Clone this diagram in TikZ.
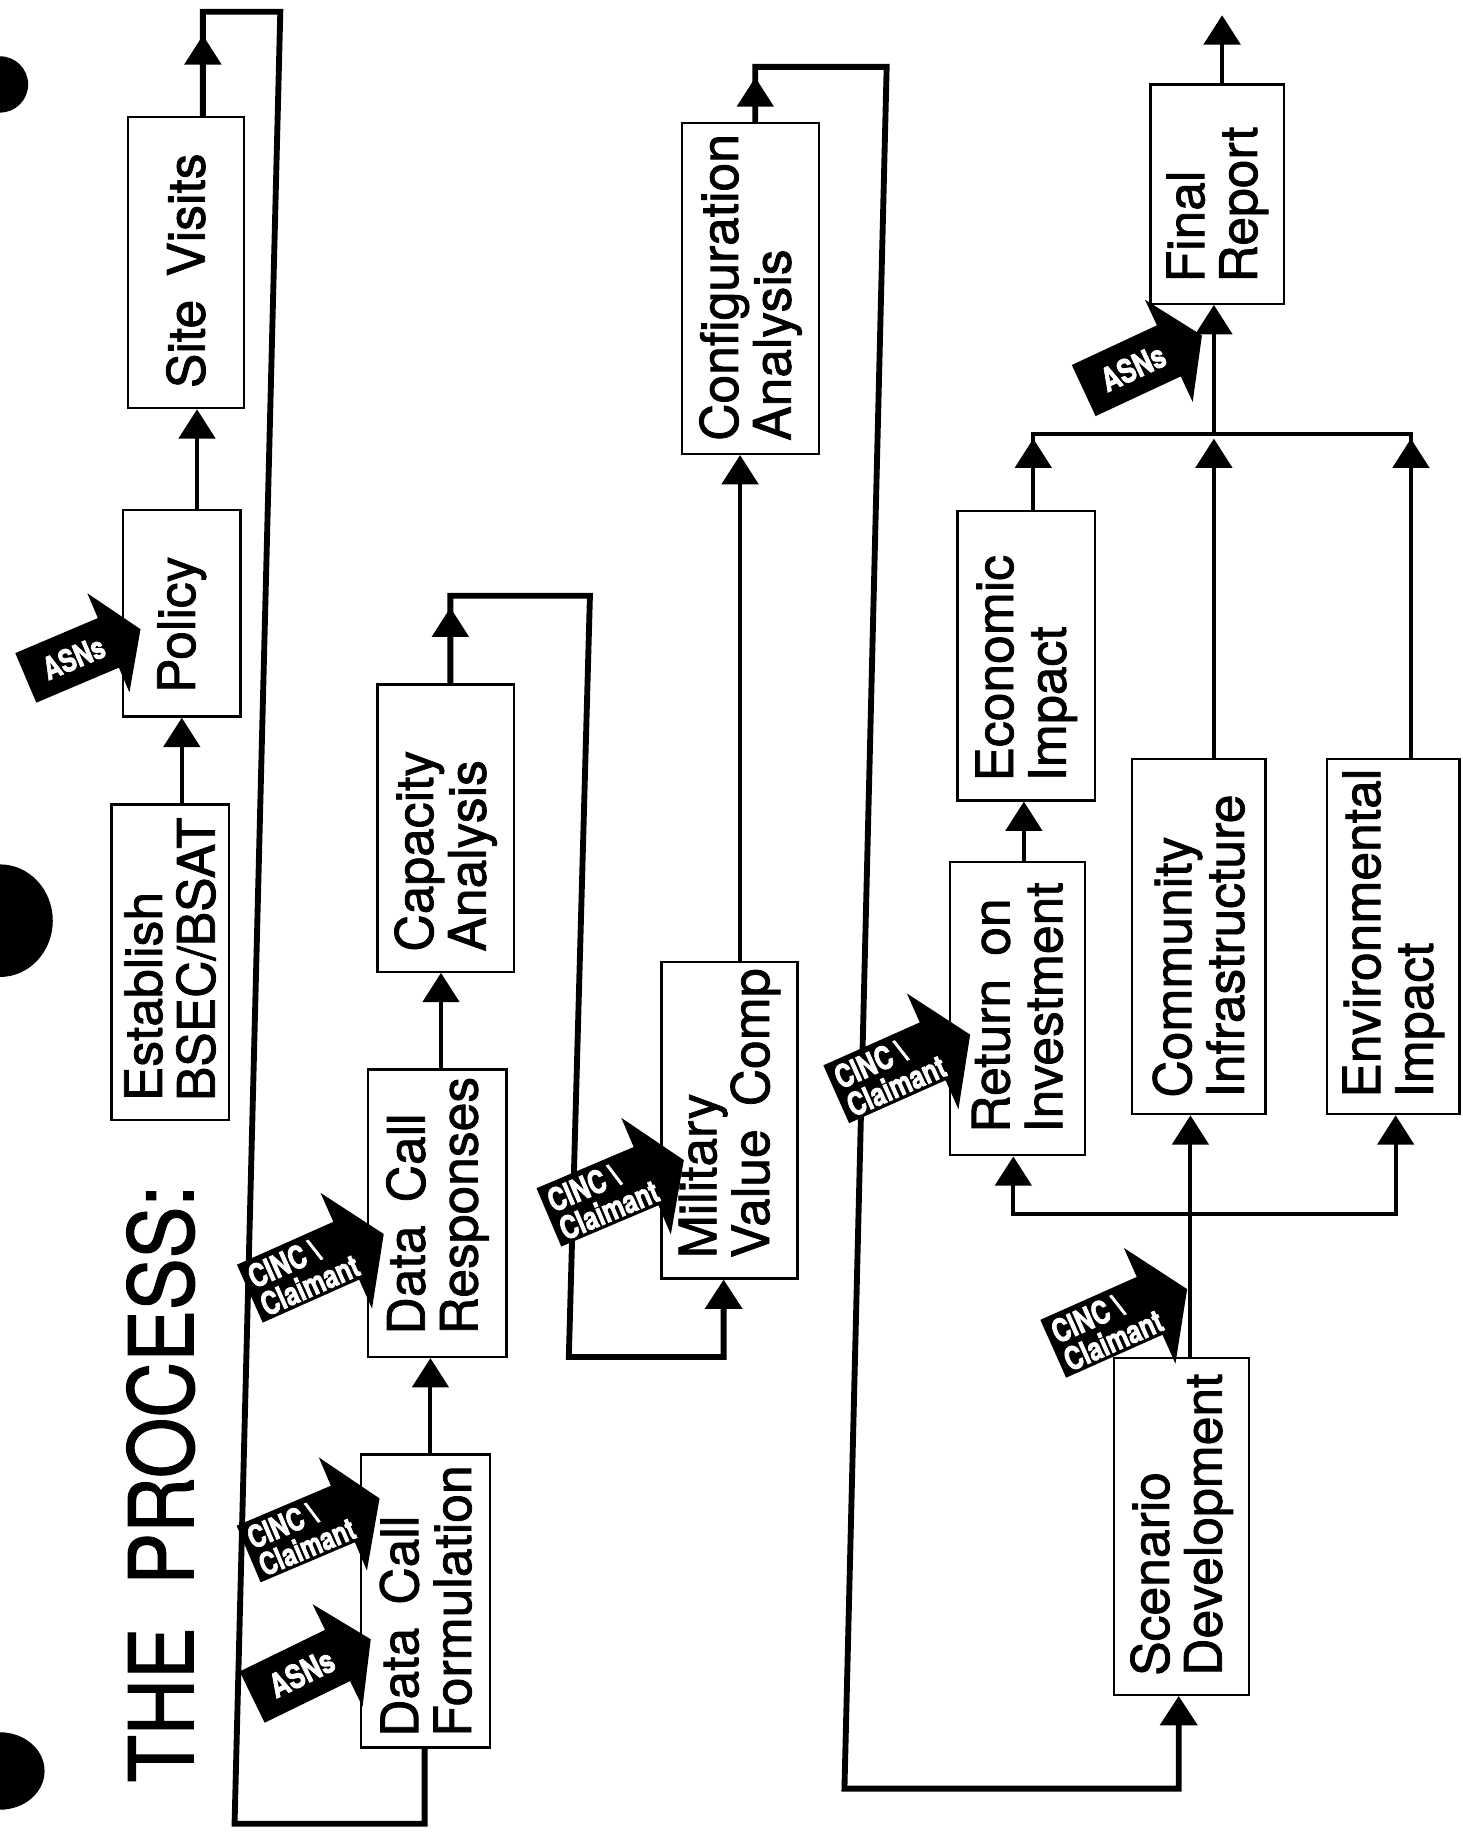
\documentclass[tikz,border=0pt]{standalone}
\usepackage{fontspec}
\setmainfont{TeX Gyre Heros}[FakeBold=1.5]
\newfontfamily\tagfont{TeX Gyre Heros}[BoldFeatures={FakeBold=2.5}]
\usepackage{graphicx}
\usetikzlibrary{arrows.meta,calc}

\newcommand\wsp{\hspace{0.45em}}
\newcommand\cnd[1]{\scalebox{0.78}[1]{#1}}

\tikzset{
  box/.style={draw, line width=2pt, fill=white, inner sep=0pt},
  lbl/.style={rotate=90, anchor=west, align=left, inner sep=0pt,
              font=\fontsize{44}{45}\selectfont},
  conn/.style={line width=3.5pt},
  head/.style={-{Triangle[length=25pt,width=31pt]}},
  tipped/.style={conn, head},
  loopline/.style={line width=5pt, line join=miter},
  tag/.style={text=white, inner sep=0pt, align=left,
              font=\tagfont\bfseries\fontsize{27}{26}\selectfont},
}

% black block arrow with a source label: #1 name, (#2,#3) tail centre, #4 angle, #5 scale
\newcommand\cincarrow[5]{%
  \begin{scope}[shift={(#2,#3)}, rotate=#4, scale=#5, transform shape]
    \fill (0,-27) -- (90,-27) -- (90,-54) -- (125,0) -- (90,54) -- (90,27) -- (0,27) -- cycle;
    \node[tag, anchor=west] (#1) at (5,1) {\cnd{CINC \textbackslash}\\\cnd{Claimant}};
  \end{scope}}
\newcommand\asnarrow[5]{%
  \begin{scope}[shift={(#2,#3)}, rotate=#4, scale=#5, transform shape]
    \fill (0,-27) -- (90,-27) -- (90,-54) -- (125,0) -- (90,54) -- (90,27) -- (0,27) -- cycle;
    \node[tag, font=\tagfont\bfseries\fontsize{31}{31}\selectfont] (#1) at (52,0) {\cnd{ASNs}};
  \end{scope}}

\begin{document}
\begin{tikzpicture}[x=1pt, y=-1pt]
\useasboundingbox (0,0) rectangle (1247,1568);
\fill[white] (0,0) rectangle (1247,1568);

% punch holes on the left margin
\fill (0,72) ellipse [x radius=24, y radius=24];
\fill (0,785) ellipse [x radius=45, y radius=48];
\fill (0,1510) ellipse [x radius=38, y radius=33];

% title
\node[rotate=90, anchor=west, inner sep=0pt, font=\fontsize{76}{76}\selectfont]
  (title) at (137,1520) {\scalebox{0.87}[1]{THE\hspace{0.55em}PROCESS:}};

% process boxes
\node[box, minimum width=100pt, minimum height=269pt] (estab) at (145,820.5) {};
\node[box, minimum width=100pt, minimum height=176pt] (pol)   at (155,523) {};
\node[box, minimum width=99pt,  minimum height=248pt] (site)  at (158.5,224) {};
\node[box, minimum width=110pt, minimum height=250pt] (form)  at (363,1365) {};
\node[box, minimum width=118pt, minimum height=245pt] (resp)  at (373,1034.5) {};
\node[box, minimum width=116pt, minimum height=245pt] (cap)   at (380,706) {};
\node[box, minimum width=116pt, minimum height=270pt] (mil)   at (622,955) {};
\node[box, minimum width=117pt, minimum height=282pt] (conf)  at (640,246) {};
\node[box, minimum width=115pt, minimum height=250pt] (roi)   at (867.5,860) {};
\node[box, minimum width=117pt, minimum height=247pt] (eco)   at (875,559) {};
\node[box, minimum width=114pt, minimum height=303pt] (comm)  at (1022,798.5) {};
\node[box, minimum width=113pt, minimum height=303pt] (env)   at (1188,798.5) {};
\node[box, minimum width=115pt, minimum height=287pt] (scen)  at (1007.5,1301.5) {};
\node[box, minimum width=114pt, minimum height=187pt] (fin)   at (1038,165.5) {};

% bend points of the long return lines and the fan-out bars
\coordinate (lp1a) at (239,10);
\coordinate (lp1b) at (200,1555);
\coordinate (lp1c) at (362,1555);
\coordinate (lp2a) at (503,508);
\coordinate (lp2b) at (485,1157);
\coordinate (lp2c) at (617,1157);
\coordinate (lp3a) at (756,57);
\coordinate (lp3b) at (720,1525);
\coordinate (lp3c) at (1005,1525);
\coordinate (hb-l) at (864,1035);
\coordinate (hb-m) at (1015,1035);
\coordinate (hb-r) at (1190,1035);
\coordinate (ht-l) at (881,370);
\coordinate (ht-m) at (1035,370);
\coordinate (ht-r) at (1203,370);

% first column
\draw[tipped] (estab.north -| pol.south) -- (pol.south);
\draw[tipped] ($(pol.north)+(13,0)$) -- ($(site.south)+(9.5,0)$);
\draw[loopline] ($(site.north)+(14.5,0)$) |- (lp1a) -- (lp1b) -- (lp1c) -- (form.south -| lp1c);
\draw[tipped] ($(site.north)+(14.5,0)$) -- ++(0,-69);

% second column
\draw[tipped] ($(form.north)+(4,0)$) -- ($(resp.south)+(-6,0)$);
\draw[tipped] ($(resp.north)+(3,0)$) -- ($(cap.south)+(-4,0)$);
\draw[loopline, head] ($(cap.north)+(4,0)$) |- (lp2a) -- (lp2b) -- (lp2c) -- (mil.south -| lp2c);
\draw[tipped] ($(cap.north)+(4,0)$) -- ++(0,-64.5);

% third column
\draw[tipped] ($(mil.north)+(9,0)$) -- ($(conf.south)+(-9,0)$);
\draw[loopline, head] ($(conf.north)+(4,0)$) |- (lp3a) -- (lp3b) -- (lp3c) -- (scen.south -| lp3c);
\draw[tipped] ($(conf.north)+(4,0)$) -- ++(0,-38);

% impact studies
\draw[conn, {Triangle[length=25pt,width=31pt]}-{Triangle[length=25pt,width=31pt]}]
  (roi.south -| hb-l) |- (hb-r) -- (env.south -| hb-r);
\draw[tipped] (scen.north -| hb-m) -- (comm.south -| hb-m);
\draw[tipped] ($(roi.north)+(5.5,0)$) -- ($(eco.south)+(-2,0)$);
\draw[conn] (eco.north -| ht-l) |- (ht-r) -- (env.north -| ht-r);
\draw[tipped] (eco.north -| ht-l) -- ($(ht-l)+(0,4)$);
\draw[tipped] (comm.north -| ht-m) -- ($(ht-m)+(0,4)$);
\draw[tipped] (env.north -| ht-r) -- ($(ht-r)+(0,4)$);
\draw[tipped] (ht-m) -- (fin.south -| ht-m);
\draw[tipped] ($(fin.north)+(4,0)$) -- ++(0,-58);

% box labels
\node[lbl] (estab-t) at ($(estab.south)+(0,-17)$) {Establish\\BSEC/BSAT};
\node[lbl] (pol-t)   at ($(pol.south)+(0,-21)$)   {Policy};
\node[lbl] (site-t)  at ($(site.south)+(0,-18)$)  {Site\wsp Visits};
\node[lbl] (form-t)  at ($(form.south)+(0,-10)$)  {Data\wsp Call\\Formulation};
\node[lbl] (resp-t)  at ($(resp.south)+(0,-20)$)  {Data\wsp Call\\Responses};
\node[lbl] (cap-t)   at ($(cap.south)+(0,-18)$)   {Capacity\\Analysis};
\node[lbl] (mil-t)   at ($(mil.south)+(0,-18)$)   {Military\\Value\wsp Comp};
\node[lbl] (conf-t)  at ($(conf.south)+(0,-12)$)  {Configuration\\Analysis};
\node[lbl] (roi-t)   at ($(roi.south)+(0,-20)$)   {Return\wsp on\\Investment};
\node[lbl] (eco-t)   at ($(eco.south)+(0,-17)$)   {Economic\\Impact};
\node[lbl] (comm-t)  at ($(comm.south)+(0,-15)$)  {Community\\Infrastructure};
\node[lbl] (env-t)   at ($(env.south)+(0,-15)$)   {Environmental\\Impact};
\node[lbl] (scen-t)  at ($(scen.south)+(0,-17)$)  {Scenario\\Development};
\node[lbl] (fin-t)   at ($(fin.south)+(0,-19)$)   {Final\\Report};

% input arrows
\asnarrow{asn1}{22}{578}{23}{0.85}
\cincarrow{cinc1}{213}{1103}{24}{1}
\cincarrow{cinc2}{212}{1325}{23}{0.97}
\asnarrow{asn2}{215}{1447}{26}{0.9}
\cincarrow{cinc3}{468}{1038}{23}{1}
\cincarrow{cinc4}{713}{933}{24}{1}
\cincarrow{cinc5}{898}{1150}{24}{1}
\asnarrow{asn3}{924}{333}{25}{0.89}
\end{tikzpicture}
\end{document}
